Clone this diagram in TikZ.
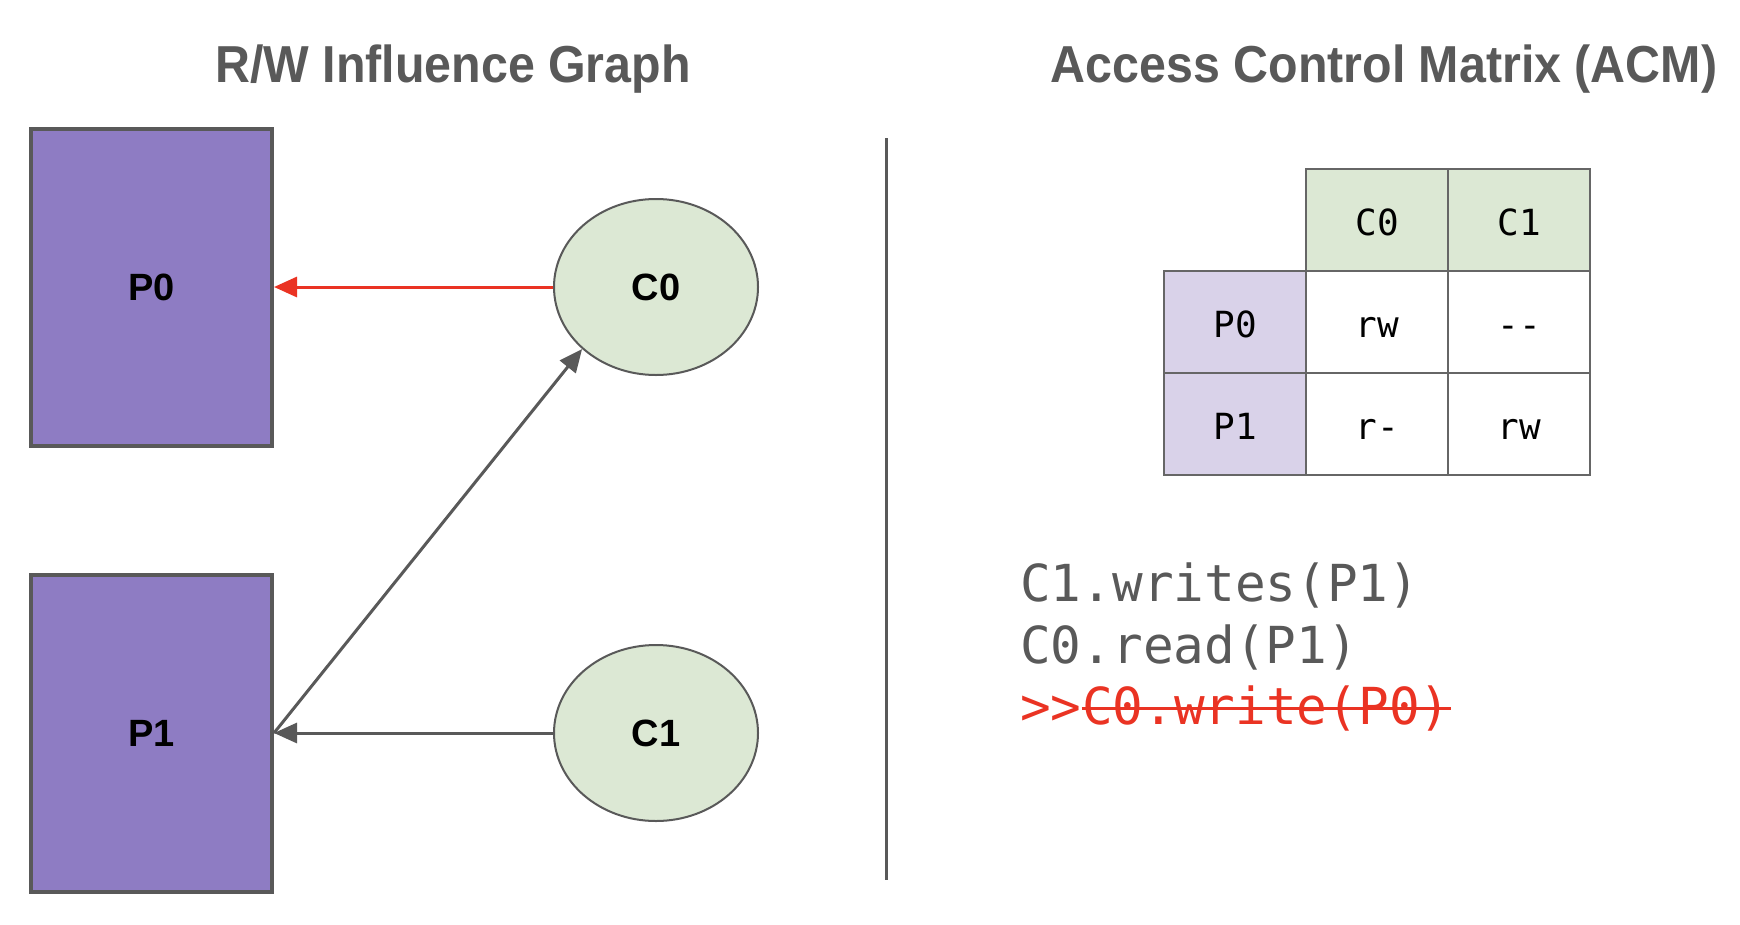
\documentclass[tikz,border=0pt]{standalone}
\usepackage{fontspec}
\setmainfont{Liberation Sans}
\newfontfamily\titlefont[FakeStretch=0.93]{Liberation Sans}
\newfontfamily\codefont{DejaVu Sans Mono}
\usetikzlibrary{arrows.meta,shapes.geometric}
\definecolor{dgray}{HTML}{595959}
\definecolor{boxpurple}{HTML}{8E7CC3}
\definecolor{lightpurple}{HTML}{D9D2E9}
\definecolor{lightgreen}{HTML}{DCE8D4}
\definecolor{redline}{HTML}{EA3323}
\definecolor{tablegray}{HTML}{666666}
\tikzset{
  titletext/.style={font=\titlefont\bfseries\fontsize{52}{62}\selectfont, text=dgray, anchor=base, inner sep=0pt},
  pbox/.style={rectangle, draw=dgray, line width=4pt, fill=boxpurple, minimum width=241pt, minimum height=317pt, inner sep=0pt, font=\bfseries\fontsize{38}{44}\selectfont},
  cnode/.style={ellipse, draw=dgray, line width=2pt, fill=lightgreen, minimum width=204pt, minimum height=176pt, inner sep=0pt, font=\bfseries\fontsize{38}{44}\selectfont},
  arr/.style={-{Triangle[length=23pt,width=20pt]}, line width=3pt, draw=dgray},
  cell/.style={rectangle, draw=tablegray, line width=2pt, minimum width=142pt, minimum height=102pt, inner sep=0pt, text height=31pt, text depth=0pt, font=\codefont\fontsize{36}{40}\selectfont},
  codetext/.style={font=\codefont\fontsize{51}{60}\selectfont, text=dgray, anchor=base west, inner sep=0pt},
}
\begin{document}
\begin{tikzpicture}[x=1pt,y=-1pt]
\useasboundingbox (0,0) rectangle (1740,924);
\fill[white] (0,0) rectangle (1740,924);

% titles
\node[titletext] (t1) at (453,82) {R/W Influence Graph};
\node[titletext] (t2) at (1384,82) {Access Control Matrix (ACM)};

% graph
\node[pbox] (P0) at (151.5,287) {P0};
\node[pbox] (P1) at (151.5,733) {P1};
\node[cnode] (C0) at (656,287) {C0};
\node[cnode] (C1) at (656,733) {C1};

\draw[arr, draw=redline] (C0.west) -- (P0.east);
\draw[arr] (C1.west) -- (P1.east);
\draw[arr] (P1.east) -- (C0.220);

% separator
\coordinate (vtop) at (886,138);
\coordinate (vbot) at (886,880);
\draw[dgray, line width=3pt] (vtop) -- (vbot);

% matrix
\node[cell, fill=lightgreen] (h0) at (1377,220) {C0};
\node[cell, fill=lightgreen] (h1) at (1519,220) {C1};
\node[cell, fill=lightpurple] (r0) at (1235,322) {P0};
\node[cell, fill=lightpurple] (r1) at (1235,424) {P1};
\node[cell, fill=white] (m00) at (1377,322) {rw};
\node[cell, fill=white] (m01) at (1519,322) {-\kern0pt-};
\node[cell, fill=white] (m10) at (1377,424) {r-};
\node[cell, fill=white] (m11) at (1519,424) {rw};

% code lines
\node[codetext] (l1) at (1020,601) {C1.writes(P1)};
\node[codetext] (l2) at (1020,663) {C0.read(P1)};
\node[codetext, text=redline] (l3a) at (1020,724) {>\kern0pt>};
\node[codetext, text=redline, text height=31pt, text depth=0pt] (l3b) at (l3a.base east) {C0.write(P0)};
\draw[redline, line width=3.5pt] (l3b.west) -- (l3b.east);
\end{tikzpicture}
\end{document}
